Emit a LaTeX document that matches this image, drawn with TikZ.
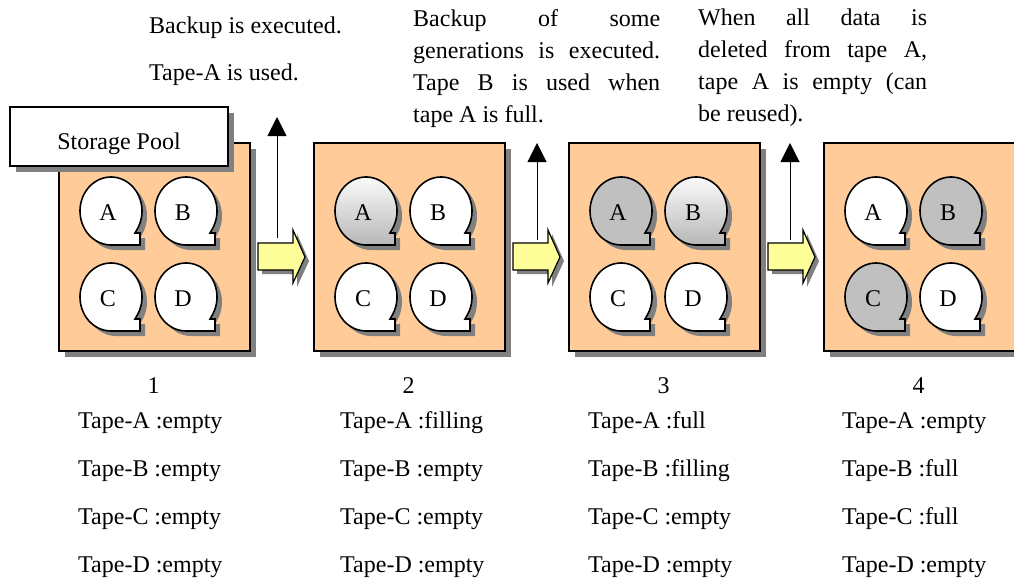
\documentclass[tikz,border=0pt]{standalone}
\usepackage{fontspec}
\setmainfont{Liberation Serif}
\usetikzlibrary{arrows.meta,shadows}

\definecolor{poolfill}{RGB}{255,204,153}
\definecolor{shadowgray}{RGB}{128,128,128}
\definecolor{fullgray}{RGB}{192,192,192}
\definecolor{movefill}{RGB}{255,255,153}

\tikzset{
  reel line/.style={draw=black,line width=1.6pt},
  reel empty/.style={fill=white},
  reel filling/.style={top color=white,bottom color=black!28},
  reel full/.style={fill=fullgray},
  pool/.style={draw=black,line width=1.6pt,fill=poolfill,minimum width=191pt,minimum height=208pt,
    anchor=north west,general shadow={fill=shadowgray,shadow xshift=6pt,shadow yshift=-6pt}},
  poolname/.style={draw=black,line width=1.6pt,fill=white,minimum width=218pt,minimum height=59pt,
    text height=30pt,text depth=5pt,
    general shadow={fill=shadowgray,shadow xshift=6pt,shadow yshift=-6pt}},
  txt/.style={inner sep=0pt},
  move/.style={draw=black,line width=1.2pt,fill=movefill},
  up/.style={line width=1pt,-{Triangle[width=19pt,length=19pt]}}
}

% one tape: outline of a reel with a square tail
\newcommand{\reelpath}{(26.85,-17) arc[start angle=-30,end angle=270,x radius=31pt,y radius=34pt]
  -- (29,-34) -- (29,-22) -- (24,-22) -- cycle}
\newcommand{\tapereel}[4]{%
  \begin{scope}[shift={(#2)}]
    \fill[shadowgray,shift={(5,-5)}] \reelpath;
    \draw[reel line,reel #3] \reelpath;
    \node[txt] (#1) at (-3,-2) {#4};
  \end{scope}}

\begin{document}
\begin{tikzpicture}[x=1pt,y=1pt,font=\fontsize{24}{32}\selectfont]
\useasboundingbox (0,0) rectangle (1014,-581);

% the four pools with their tapes and states
\foreach \n/\xs/\sa/\sb/\sc/\sd in {1/78/empty/empty/empty/empty,
    2/340/filling/empty/empty/empty, 3/588/full/filling/empty/empty,
    4/842/empty/full/full/empty}{
  \pgfmathsetmacro{\bl}{58+255*(\n-1)}
  \node[pool] (pool\n) at (\bl,-142) {};
  \tapereel{a\n}{\bl+53,-211}{\sa}{A}
  \tapereel{b\n}{\bl+128,-211}{\sb}{B}
  \tapereel{c\n}{\bl+53,-297}{\sc}{C}
  \tapereel{d\n}{\bl+128,-297}{\sd}{D}
  \node[txt] (num\n) at (\bl+95.5,-386) {\n};
  \node[txt,anchor=west] (sa\n) at (\xs,-423) {Tape-A :\sa};
  \node[txt,anchor=west] (sb\n) at (\xs,-471) {Tape-B :\sb};
  \node[txt,anchor=west] (sc\n) at (\xs,-519) {Tape-C :\sc};
  \node[txt,anchor=west] (sd\n) at (\xs,-567) {Tape-D :\sd};
}

\node[poolname] (poolname) at (119,-136.5) {Storage Pool};

% block arrows between the steps
\foreach \k in {1,2,3}{
  \pgfmathsetmacro{\ax}{258+255*(\k-1)}
  \fill[shadowgray,shift={(4,-4)}] (\ax,-243) -- ++(35,0) -- ++(0,13) -- ++(12,-27)
    -- ++(-12,-26) -- ++(0,13) -- ++(-35,0) -- cycle;
  \draw[move] (\ax,-243) -- ++(35,0) -- ++(0,13) -- ++(12,-27)
    -- ++(-12,-26) -- ++(0,13) -- ++(-35,0) -- cycle;
}

% what happens at each step
\coordinate (up1s) at (277,-238);
\coordinate (up1e) at (277,-117);
\coordinate (up2s) at (537,-240);
\coordinate (up2e) at (537,-143);
\coordinate (up3s) at (790,-240);
\coordinate (up3e) at (790,-143);
\draw[up] (up1s) -- (up1e);
\draw[up] (up2s) -- (up2e);
\draw[up] (up3s) -- (up3e);

\node[txt,anchor=north west,align=left] (note1) at (149,-17)
  {Backup is executed.\\[15pt]Tape-A is used.};
\node[txt,anchor=north west,text width=247pt,align=justify] (note2) at (413,-9)
  {Backup of some\linebreak generations is executed.\linebreak
   Tape B is used when\linebreak tape A is full.};
\node[txt,anchor=north west,text width=229pt,align=justify] (note3) at (698,-9)
  {When all data is\linebreak deleted from tape A,\linebreak
   tape A is empty (can\linebreak be reused).};
\end{tikzpicture}
\end{document}
